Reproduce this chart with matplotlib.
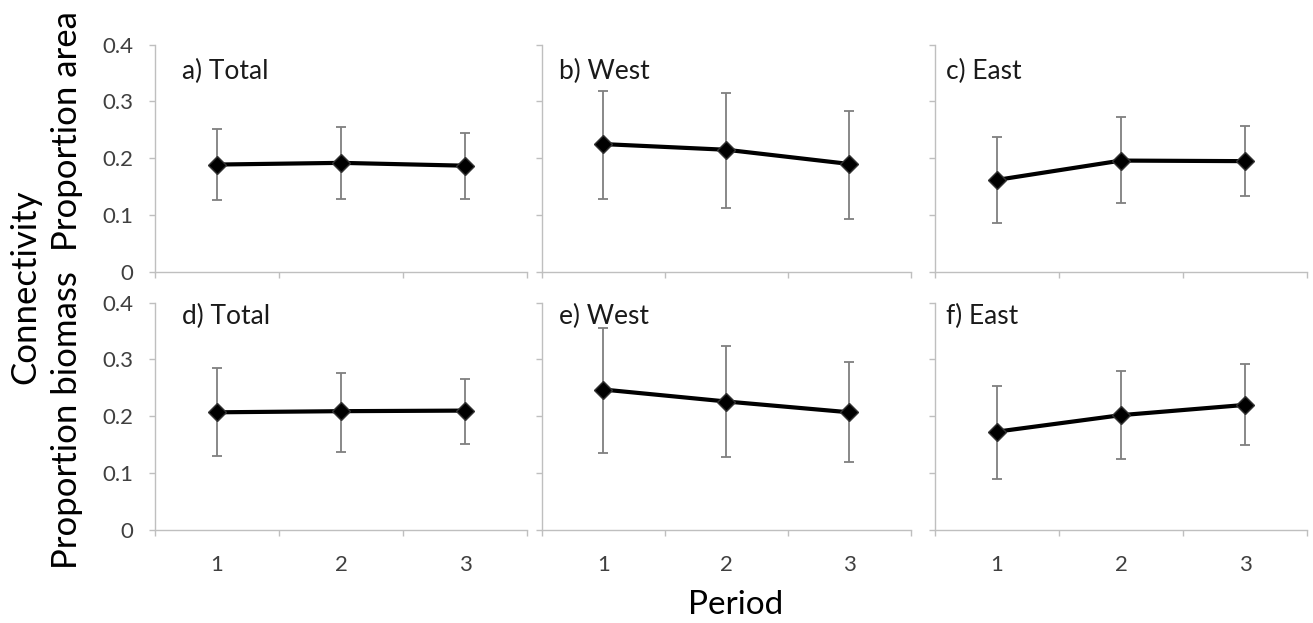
import matplotlib
matplotlib.use('Agg')
from matplotlib import pyplot as plt

plt.rcParams['font.family'] = ['Lato', 'DejaVu Sans']

periods = [1, 2, 3]
panel_labels = ['a) Total', 'b) West', 'c) East', 'd) Total', 'e) West', 'f) East']

# mean, lower and upper ends of the error bars
area_total = [0.189, 0.192, 0.187]
area_total_lo = [0.126, 0.128, 0.128]
area_total_hi = [0.252, 0.255, 0.244]
area_west = [0.225, 0.215, 0.190]
area_west_lo = [0.129, 0.113, 0.094]
area_west_hi = [0.319, 0.314, 0.284]
area_east = [0.162, 0.196, 0.195]
area_east_lo = [0.087, 0.121, 0.133]
area_east_hi = [0.238, 0.272, 0.256]

bio_total = [0.207, 0.209, 0.210]
bio_total_lo = [0.130, 0.138, 0.151]
bio_total_hi = [0.285, 0.277, 0.265]
bio_west = [0.247, 0.226, 0.207]
bio_west_lo = [0.136, 0.128, 0.119]
bio_west_hi = [0.356, 0.324, 0.295]
bio_east = [0.173, 0.202, 0.220]
bio_east_lo = [0.090, 0.125, 0.149]
bio_east_hi = [0.254, 0.280, 0.292]

series = [
    (area_total, area_total_lo, area_total_hi),
    (area_west, area_west_lo, area_west_hi),
    (area_east, area_east_lo, area_east_hi),
    (bio_total, bio_total_lo, bio_total_hi),
    (bio_west, bio_west_lo, bio_west_hi),
    (bio_east, bio_east_lo, bio_east_hi),
]

fig = plt.figure(figsize=(13.13, 6.23), dpi=100)

lefts = [0.1181, 0.4128, 0.7121]
widths = [0.2833, 0.2810, 0.2833]
bottoms = [0.5634, 0.1493]
height = 0.3650
title_y = [0.88, 0.94]
title_x = [0.073, 0.045, 0.03]

grey = '#bfbfbf'
for i, (mean, lo, hi) in enumerate(series):
    row, col = divmod(i, 3)
    ax = fig.add_axes([lefts[col], bottoms[row], widths[col], height])
    err = [[m - l for m, l in zip(mean, lo)], [h - m for m, h in zip(mean, hi)]]
    ax.errorbar(periods, mean, yerr=err, fmt='none', ecolor='#7f7f7f',
                elinewidth=1.3, capsize=3.5, capthick=1.3, zorder=2)
    ax.plot(periods, mean, color='black', linewidth=3, marker='D',
            markersize=9, markerfacecolor='black', markeredgecolor='#333333', zorder=3)

    ax.set_xlim(0.5, 3.5)
    ax.set_ylim(0, 0.4)
    ax.set_xticks([0.5, 1.5, 2.5, 3.5])
    ax.set_xticklabels([])
    ax.set_xticks(periods, minor=True)
    if row == 1:
        ax.set_xticklabels([str(p) for p in periods], minor=True)
    else:
        ax.set_xticklabels([], minor=True)
    ax.tick_params(axis='x', which='minor', length=0, pad=18, labelsize=16, labelcolor='#404040')
    ax.set_yticks([0, 0.1, 0.2, 0.3, 0.4])
    if col == 0:
        ax.set_yticklabels(['0', '0.1', '0.2', '0.3', '0.4'])
    else:
        ax.set_yticklabels([])
    ax.tick_params(axis='both', which='major', length=4.5, width=1, color=grey,
                   labelsize=16, labelcolor='#404040', pad=11)
    for s in ['top', 'right']:
        ax.spines[s].set_visible(False)
    for s in ['left', 'bottom']:
        ax.spines[s].set_color(grey)
        ax.spines[s].set_linewidth(1)
    ax.text(title_x[col], title_y[row], panel_labels[i], transform=ax.transAxes,
            fontsize=19, va='center', ha='left', color='#1a1a1a')

fig.text(0.019, 0.539, 'Connectivity', rotation=90, ha='center', va='center', fontsize=25)
fig.text(0.051, 0.790, 'Proportion area', rotation=90, ha='center', va='center', fontsize=25)
fig.text(0.051, 0.326, 'Proportion biomass', rotation=90, ha='center', va='center', fontsize=25)
fig.text(0.5606, 0.029, 'Period', ha='center', va='center', fontsize=24)

fig.savefig('out.png', dpi=100)
